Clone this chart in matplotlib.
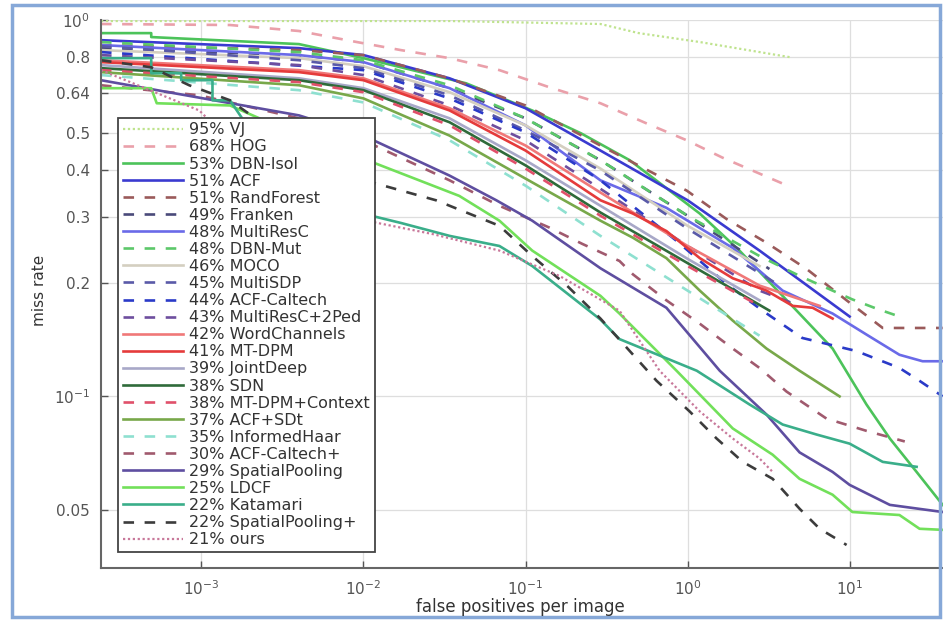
import matplotlib
matplotlib.use('Agg')
import matplotlib.pyplot as plt
from matplotlib.patches import Rectangle
from matplotlib.ticker import NullLocator

# ROC data (fppi, miss rate)
vj_fppi = [2.4e-4, 0.034, 0.29, 0.50, 1.19, 4.26]
vj_mr = [0.994, 0.994, 0.976, 0.923, 0.874, 0.797]

hog_fppi = [2.4e-4, 1.5e-3, 4.0e-3, 9.1e-3, 0.017, 0.034, 0.069, 0.14, 0.29, 0.56, 0.99, 1.64, 3.9]
hog_mr = [0.976, 0.970, 0.935, 0.874, 0.832, 0.792, 0.736, 0.663, 0.601, 0.531, 0.479, 0.431, 0.367]

dbnisol_fppi = [2.4e-4, 4.9e-4, 4.9e-4, 4.0e-3, 0.01, 0.017, 0.043, 0.11, 0.22, 0.44, 1.19, 2.09, 4.71, 7.85, 12.7, 17.7, 25.9, 37.5]
dbnisol_mr = [0.923, 0.923, 0.901, 0.863, 0.792, 0.749, 0.679, 0.575, 0.50, 0.424, 0.306, 0.244, 0.169, 0.134, 0.0952, 0.0773, 0.063, 0.0515]

acf_fppi = [2.4e-4, 4.0e-3, 0.01, 0.034, 0.1, 0.29, 1.0, 2.78, 10.0]
acf_mr = [0.884, 0.842, 0.807, 0.70, 0.583, 0.45, 0.332, 0.244, 0.163]

randforest_fppi = [2.4e-4, 4.0e-3, 0.01, 0.034, 0.1, 0.29, 0.99, 1.74, 3.07, 5.43, 9.58, 16.0, 37.5]
randforest_mr = [0.858, 0.832, 0.807, 0.70, 0.593, 0.464, 0.352, 0.296, 0.256, 0.218, 0.18, 0.152, 0.152]

franken_fppi = [2.4e-4, 4.0e-3, 0.01, 0.034, 0.1, 0.29, 1.0, 3.2]
franken_mr = [0.842, 0.807, 0.773, 0.659, 0.548, 0.424, 0.302, 0.218]

multiresc_fppi = [2.4e-4, 4.0e-3, 0.01, 0.034, 0.1, 0.29, 0.74, 1.9, 3.86, 7.85, 12.7, 20.3, 28.2, 37.5]
multiresc_mr = [0.858, 0.807, 0.773, 0.659, 0.525, 0.375, 0.317, 0.248, 0.191, 0.166, 0.146, 0.129, 0.124, 0.124]

dbnmut_fppi = [2.4e-4, 4.0e-3, 0.01, 0.034, 0.1, 0.29, 1.0, 2.78, 4.91, 10.4, 14.7, 20.3]
dbnmut_mr = [0.874, 0.822, 0.782, 0.671, 0.548, 0.424, 0.302, 0.236, 0.209, 0.181, 0.171, 0.163]

moco_fppi = [2.4e-4, 4.0e-3, 0.01, 0.034, 0.1, 0.29, 1.0, 2.78]
moco_mr = [0.832, 0.792, 0.754, 0.643, 0.525, 0.403, 0.284, 0.222]

multisdp_fppi = [2.4e-4, 4.0e-3, 0.01, 0.034, 0.1, 0.29, 1.0, 3.7]
multisdp_mr = [0.852, 0.782, 0.745, 0.631, 0.509, 0.398, 0.279, 0.197]

acfcaltech_fppi = [2.4e-4, 0.01, 0.034, 0.1, 0.29, 0.855, 1.74, 2.9, 5.1, 11.0, 20.3, 27.0, 37.5]
acfcaltech_mr = [0.822, 0.736, 0.619, 0.503, 0.375, 0.259, 0.199, 0.169, 0.143, 0.132, 0.119, 0.110, 0.100]

multiresc2ped_fppi = [2.4e-4, 4.0e-3, 0.01, 0.034, 0.1, 0.29, 1.0, 2.78, 4.91]
multiresc2ped_mr = [0.807, 0.759, 0.714, 0.593, 0.479, 0.356, 0.251, 0.191, 0.174]

wordchannels_fppi = [2.4e-4, 4.0e-3, 0.01, 0.034, 0.1, 0.29, 1.0, 2.78, 6.53]
wordchannels_mr = [0.782, 0.736, 0.70, 0.583, 0.464, 0.348, 0.251, 0.197, 0.174]

mtdpm_fppi = [2.4e-4, 4.0e-3, 0.01, 0.034, 0.1, 0.29, 0.46, 0.74, 1.19, 1.9, 3.07, 4.45, 5.91, 7.85]
mtdpm_mr = [0.773, 0.727, 0.692, 0.575, 0.45, 0.332, 0.306, 0.275, 0.233, 0.206, 0.191, 0.174, 0.172, 0.161]

jointdeep_fppi = [2.4e-4, 4.0e-3, 0.01, 0.034, 0.1, 0.29, 1.0, 2.78]
jointdeep_mr = [0.759, 0.70, 0.659, 0.548, 0.424, 0.321, 0.232, 0.18]

sdn_fppi = [2.4e-4, 4.0e-3, 0.01, 0.034, 0.1, 0.29, 1.0, 3.2]
sdn_mr = [0.745, 0.692, 0.651, 0.535, 0.411, 0.308, 0.226, 0.169]

mtdpmctx_fppi = [2.4e-4, 4.0e-3, 0.01, 0.034, 0.1, 0.29, 1.0, 2.78]
mtdpmctx_mr = [0.736, 0.684, 0.643, 0.525, 0.403, 0.302, 0.222, 0.174]

acfsdt_fppi = [2.4e-4, 4.0e-3, 0.01, 0.034, 0.1, 0.29, 0.46, 0.74, 1.19, 1.9, 3.07, 4.91, 8.67]
acfsdt_mr = [0.727, 0.671, 0.619, 0.493, 0.379, 0.293, 0.264, 0.233, 0.191, 0.159, 0.134, 0.117, 0.10]

informedhaar_fppi = [2.4e-4, 4.0e-3, 0.01, 0.034, 0.1, 0.29, 1.0, 2.78]
informedhaar_mr = [0.714, 0.651, 0.604, 0.479, 0.363, 0.267, 0.191, 0.145]

acfcaltechp_fppi = [2.4e-4, 9.7e-4, 4.0e-3, 0.01, 0.034, 0.069, 0.14, 0.225, 0.38, 0.46, 0.74, 1.19, 1.9, 2.78, 4.08, 7.2, 12.7, 21.9]
acfcaltechp_mr = [0.671, 0.631, 0.548, 0.479, 0.375, 0.321, 0.281, 0.254, 0.229, 0.211, 0.18, 0.156, 0.134, 0.119, 0.103, 0.0873, 0.081, 0.0759]

spatialpooling_fppi = [2.4e-4, 4.0e-3, 0.01, 0.034, 0.066, 0.11, 0.29, 0.74, 1.58, 3.07, 4.91, 7.85, 10.0, 17.7, 37.5]
spatialpooling_mr = [0.692, 0.558, 0.493, 0.386, 0.332, 0.293, 0.219, 0.172, 0.117, 0.0895, 0.071, 0.063, 0.0582, 0.0515, 0.0493]

ldcf_fppi = [2.4e-4, 4.9e-4, 5.3e-4, 1.5e-3, 4.0e-3, 0.01, 0.039, 0.069, 0.11, 0.29, 0.38, 0.855, 1.9, 3.35, 4.91, 7.85, 10.4, 20.3, 27.0, 37.5]
ldcf_mr = [0.659, 0.659, 0.601, 0.593, 0.493, 0.428, 0.341, 0.293, 0.244, 0.185, 0.166, 0.117, 0.0822, 0.070, 0.0604, 0.0548, 0.0493, 0.0484, 0.0445, 0.0442]

katamari_fppi = [2.4e-4, 4.9e-4, 4.9e-4, 7.5e-4, 7.5e-4, 1.17e-3, 1.17e-3, 1.5e-3, 4.0e-3, 8.2e-3, 0.017, 0.034, 0.069, 0.11, 0.18, 0.29, 0.38, 1.14, 2.41, 3.86, 6.25, 10.0, 16.0, 25.9]
katamari_mr = [0.792, 0.792, 0.722, 0.722, 0.692, 0.692, 0.612, 0.612, 0.327, 0.312, 0.289, 0.267, 0.251, 0.222, 0.188, 0.160, 0.142, 0.117, 0.0952, 0.0842, 0.0792, 0.0749, 0.067, 0.065]

spp_fppi = [2.4e-4, 4.9e-4, 8.4e-4, 1.5e-3, 1.84e-3, 6.2e-3, 0.028, 0.069, 0.11, 0.18, 0.29, 0.644, 1.03, 1.51, 2.19, 3.35, 4.91, 6.53, 9.58]
spp_mr = [0.782, 0.749, 0.671, 0.612, 0.575, 0.398, 0.332, 0.284, 0.236, 0.197, 0.161, 0.110, 0.0912, 0.0773, 0.067, 0.0604, 0.0503, 0.0445, 0.0403]

ours_fppi = [2.4e-4, 9.7e-4, 4.0e-3, 0.0104, 0.0267, 0.069, 0.162, 0.38, 0.672, 1.19, 1.9, 2.78, 3.35]
ours_mr = [0.736, 0.575, 0.315, 0.293, 0.270, 0.244, 0.209, 0.169, 0.117, 0.0912, 0.0773, 0.0684, 0.063]

# legend labels, in plotting order
labels = ['95% VJ', '68% HOG', '53% DBN-Isol', '51% ACF', '51% RandForest', '49% Franken',
          '48% MultiResC', '48% DBN-Mut', '46% MOCO', '45% MultiSDP', '44% ACF-Caltech',
          '43% MultiResC+2Ped', '42% WordChannels', '41% MT-DPM', '39% JointDeep', '38% SDN',
          '38% MT-DPM+Context', '37% ACF+SDt', '35% InformedHaar', '30% ACF-Caltech+',
          '29% SpatialPooling', '25% LDCF', '22% Katamari', '22% SpatialPooling+', '21% ours']

curves = [(vj_fppi, vj_mr), (hog_fppi, hog_mr), (dbnisol_fppi, dbnisol_mr), (acf_fppi, acf_mr),
          (randforest_fppi, randforest_mr), (franken_fppi, franken_mr), (multiresc_fppi, multiresc_mr),
          (dbnmut_fppi, dbnmut_mr), (moco_fppi, moco_mr), (multisdp_fppi, multisdp_mr),
          (acfcaltech_fppi, acfcaltech_mr), (multiresc2ped_fppi, multiresc2ped_mr),
          (wordchannels_fppi, wordchannels_mr), (mtdpm_fppi, mtdpm_mr), (jointdeep_fppi, jointdeep_mr),
          (sdn_fppi, sdn_mr), (mtdpmctx_fppi, mtdpmctx_mr), (acfsdt_fppi, acfsdt_mr),
          (informedhaar_fppi, informedhaar_mr), (acfcaltechp_fppi, acfcaltechp_mr),
          (spatialpooling_fppi, spatialpooling_mr), (ldcf_fppi, ldcf_mr), (katamari_fppi, katamari_mr),
          (spp_fppi, spp_mr), (ours_fppi, ours_mr)]

colors = ['#bfe38e', '#eaa0aa', '#4cc35a', '#3a3ad0', '#9a5a5a', '#4a4a7a', '#6a6ae8', '#5cc86a',
          '#d4cfc0', '#5a5aa8', '#2a3ac8', '#6e4e9e', '#f07878', '#e53b3b', '#a8a8c8', '#2f6b3a',
          '#e0506a', '#78a84a', '#8ee0d0', '#a05a6e', '#5e4ea0', '#72e05a', '#3aae8a', '#3c3c3c',
          '#c8789a']
styles = [':', '--', '-', '-', '--', '--', '-', '--', '-', '--', '--', '--', '-', '-', '-', '-',
          '--', '-', '--', '--', '-', '-', '-', '--', ':']

ytick_vals = [0.05, 0.1, 0.2, 0.3, 0.4, 0.5, 0.64, 0.8, 1.0]
ytick_labels = ['0.05', '$10^{-1}$', '0.2', '0.3', '0.4', '0.5', '0.64', '0.8', '$10^{0}$']
xtick_vals = [1e-3, 1e-2, 1e-1, 1, 10]
xtick_labels = ['$10^{-3}$', '$10^{-2}$', '$10^{-1}$', '$10^{0}$', '$10^{1}$']

fig = plt.figure(figsize=(9.43, 6.22), dpi=100)
ax = fig.add_axes([0.1071, 0.0868, 0.914, 0.881])

for (fp, mr), lab, col, ls in zip(curves, labels, colors, styles):
    if ls == '--':
        ax.plot(fp, mr, color=col, lw=1.9, linestyle=(0, (4, 4)), label=lab)
    elif ls == ':':
        ax.plot(fp, mr, color=col, lw=1.6, linestyle=(0, (1, 1.2)), label=lab)
    else:
        ax.plot(fp, mr, color=col, lw=1.9, label=lab)

ax.set_xscale('log')
ax.set_yscale('log')
ax.set_xlim(2.4e-4, 50)
ax.set_ylim(0.035, 1.0)
ax.set_yticks(ytick_vals)
ax.set_yticklabels(ytick_labels)
ax.set_xticks(xtick_vals)
ax.set_xticklabels(xtick_labels)
ax.xaxis.set_minor_locator(NullLocator())
ax.yaxis.set_minor_locator(NullLocator())
ax.grid(True, color='#dedede', lw=0.9)
ax.set_axisbelow(True)
ax.tick_params(direction='in', length=5, width=1, colors='#555555', labelsize=11, pad=8)
for side in ['top', 'right']:
    ax.spines[side].set_visible(False)
for side in ['left', 'bottom']:
    ax.spines[side].set_color('#666666')
    ax.spines[side].set_linewidth(1.5)

leg = ax.legend(loc='lower left', bbox_to_anchor=(118 / 943, 70 / 622), bbox_transform=fig.transFigure,
                fontsize=11.5, labelspacing=0.13, handlelength=3.8, handletextpad=0.35, borderpad=0.3,
                fancybox=False, edgecolor='#444444', framealpha=1, borderaxespad=0)
leg.get_frame().set_linewidth(1.3)
for t in leg.get_texts():
    t.set_color('#333333')

fig.text(520 / 943, 1 - 607 / 622, 'false positives per image', ha='center', va='center',
         fontsize=12, color='#333333')
fig.text(40 / 943, 1 - 290 / 622, 'miss rate', ha='center', va='center', rotation=90,
         fontsize=11, color='#333333')

# blue screenshot frame
fig.add_artist(Rectangle((12 / 943, 5 / 622), 928 / 943, 612 / 622, transform=fig.transFigure,
                         fill=False, ec='#86a8d8', lw=2.5))

fig.savefig('out.png', dpi=100)
